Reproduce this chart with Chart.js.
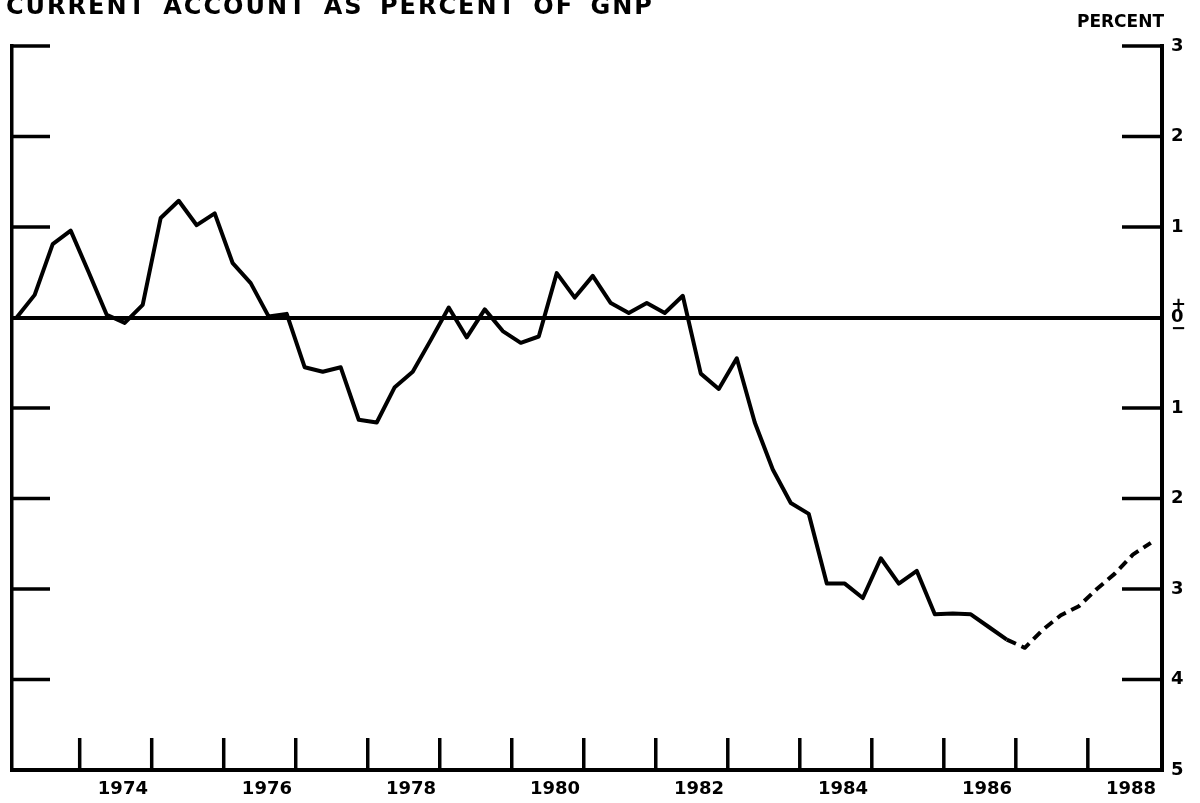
<!DOCTYPE html>
<html><head><meta charset="utf-8">
<script src="https://cdn.jsdelivr.net/npm/chart.js@4/dist/chart.umd.min.js"></script>
<style>html,body{margin:0;padding:0;background:#fff}#wrap{position:relative;width:1200px;height:803px}canvas{display:block}</style>
</head><body><div id="wrap"><canvas id="c" width="1200" height="803"></canvas></div>
<script>
const titleText = 'CURRENT ACCOUNT AS PERCENT OF GNP';
const unitLabel = 'PERCENT';
const quarters = [
 '1973Q1','1973Q2','1973Q3','1973Q4','1974Q1','1974Q2','1974Q3','1974Q4',
 '1975Q1','1975Q2','1975Q3','1975Q4','1976Q1','1976Q2','1976Q3','1976Q4',
 '1977Q1','1977Q2','1977Q3','1977Q4','1978Q1','1978Q2','1978Q3','1978Q4',
 '1979Q1','1979Q2','1979Q3','1979Q4','1980Q1','1980Q2','1980Q3','1980Q4',
 '1981Q1','1981Q2','1981Q3','1981Q4','1982Q1','1982Q2','1982Q3','1982Q4',
 '1983Q1','1983Q2','1983Q3','1983Q4','1984Q1','1984Q2','1984Q3','1984Q4',
 '1985Q1','1985Q2','1985Q3','1985Q4','1986Q1','1986Q2','1986Q3','1986Q4',
 '1987Q1','1987Q2','1987Q3','1987Q4','1988Q1','1988Q2','1988Q3','1988Q4'];
const values = [
 0.00, 0.25, 0.81, 0.96, 0.50, 0.03, -0.06, 0.14,
 1.10, 1.29, 1.02, 1.15, 0.60, 0.38, 0.01, 0.04,
 -0.55, -0.60, -0.55, -1.13, -1.16, -0.77, -0.60, -0.25,
 0.11, -0.22, 0.09, -0.15, -0.28, -0.21, 0.49, 0.22,
 0.46, 0.16, 0.05, 0.16, 0.05, 0.24, -0.62, -0.79,
 -0.45, -1.16, -1.68, -2.05, -2.17, -2.94, -2.94, -3.10,
 -2.66, -2.94, -2.80, -3.28, -3.27, -3.28, -3.42, -3.56,
 -3.65, -3.45, -3.29, -3.19, -3.00, -2.83, -2.62, -2.49];
const projectionStart = '1986Q4';
const yearTicks = [1974,1975,1976,1977,1978,1979,1980,1981,1982,1983,1984,1985,1986,1987,1988];
const yearLabels = ['1974','1976','1978','1980','1982','1984','1986','1988'];
const yTicks = [3,2,1,0,-1,-2,-3,-4,-5];

function qToX(q){ const y = +q.slice(0,4), n = +q.slice(5); return y + (n - 0.5) / 4; }
const pts = quarters.map((q,i)=>({x:qToX(q), y:values[i]}));
const projIdx = quarters.indexOf(projectionStart);
const FONT = 'DejaVu Sans';

const inwardTicks = {
  id:'inwardTicks',
  afterDraw(chart){
    const {ctx, chartArea:a, scales:{x, y}} = chart;
    ctx.save();
    ctx.strokeStyle = '#000'; ctx.lineWidth = 3.5; ctx.lineCap = 'butt';
    const seg = (x1,y1,x2,y2)=>{ctx.beginPath();ctx.moveTo(x1,y1);ctx.lineTo(x2,y2);ctx.stroke();};
    yTicks.forEach(v=>{
      if (v === 0 || v === -5) return;
      const py = y.getPixelForValue(v);
      seg(a.left, py, a.left + 38, py);
      seg(a.right - 40, py, a.right, py);
    });
    yearTicks.forEach(yr=>{
      const px = x.getPixelForValue(yr);
      seg(px, a.bottom, px, a.bottom - 32);
    });
    ctx.restore();
  }
};

const headings = {
  id:'headings',
  afterDraw(chart){
    const ctx = chart.ctx;
    ctx.save();
    ctx.fillStyle = '#000';
    ctx.textBaseline = 'alphabetic';
    ctx.textAlign = 'left';
    ctx.font = 'bold 24px "' + FONT + '"';
    try { ctx.letterSpacing = '2px'; ctx.wordSpacing = '6px'; } catch(e) {}
    ctx.fillText(titleText, 6, 14);
    try { ctx.letterSpacing = '0px'; ctx.wordSpacing = '0px'; } catch(e) {}
    ctx.font = 'bold 17px "' + FONT + '"';
    ctx.textAlign = 'right';
    ctx.fillText(unitLabel, 1164, 27);
    ctx.restore();
  }
};

new Chart(document.getElementById('c').getContext('2d'), {
  type:'line',
  data:{datasets:[{
    data:pts, borderColor:'#000', borderWidth:4, pointRadius:0, tension:0, fill:false,
    borderJoinStyle:'round', borderCapStyle:'butt',
    segment:{borderDash: c => c.p0DataIndex >= projIdx ? [10,6] : undefined}
  }]},
  options:{
    responsive:false, animation:false, devicePixelRatio:1,
    layout:{padding:{top:46, left:0, right:0, bottom:0}},
    plugins:{legend:{display:false}, tooltip:{enabled:false}, title:{display:false}},
    scales:{
      x:{type:'linear', min:1973.06, max:1989.03, position:'bottom',
        afterBuildTicks: s => { s.ticks = yearLabels.map(l => ({value: +l + 0.6})); },
        afterFit: s => { s.height = 33; },
        ticks:{callback:(v,i)=>yearLabels[i], font:{family:FONT, weight:'bold', size:18}, color:'#000', padding:9, maxRotation:0, autoSkip:false},
        grid:{display:false, drawTicks:false},
        border:{display:true, color:'#000', width:4}},
      y:{type:'linear', min:-5, max:3, position:'right',
        afterBuildTicks: s => { s.ticks = yTicks.map(v => ({value:v})); },
        afterFit: s => { s.width = 38; },
        ticks:{callback: v => v === 0 ? ['+','0','\u2212'] : String(Math.abs(v)),
          font:{family:FONT, weight:'bold', size:18, lineHeight:0.65}, color:'#000', padding:9},
        grid:{drawTicks:false, color: c => (c.tick && c.tick.value === 0) ? '#000' : 'rgba(0,0,0,0)', lineWidth:4},
        border:{display:true, color:'#000', width:4}},
      yl:{type:'linear', min:-5, max:3, position:'left',
        afterFit: s => { s.width = 12; },
        ticks:{display:false},
        grid:{display:false, drawTicks:false},
        border:{display:true, color:'#000', width:3.5}}
    }
  },
  plugins:[inwardTicks, headings]
});
</script></body></html>
